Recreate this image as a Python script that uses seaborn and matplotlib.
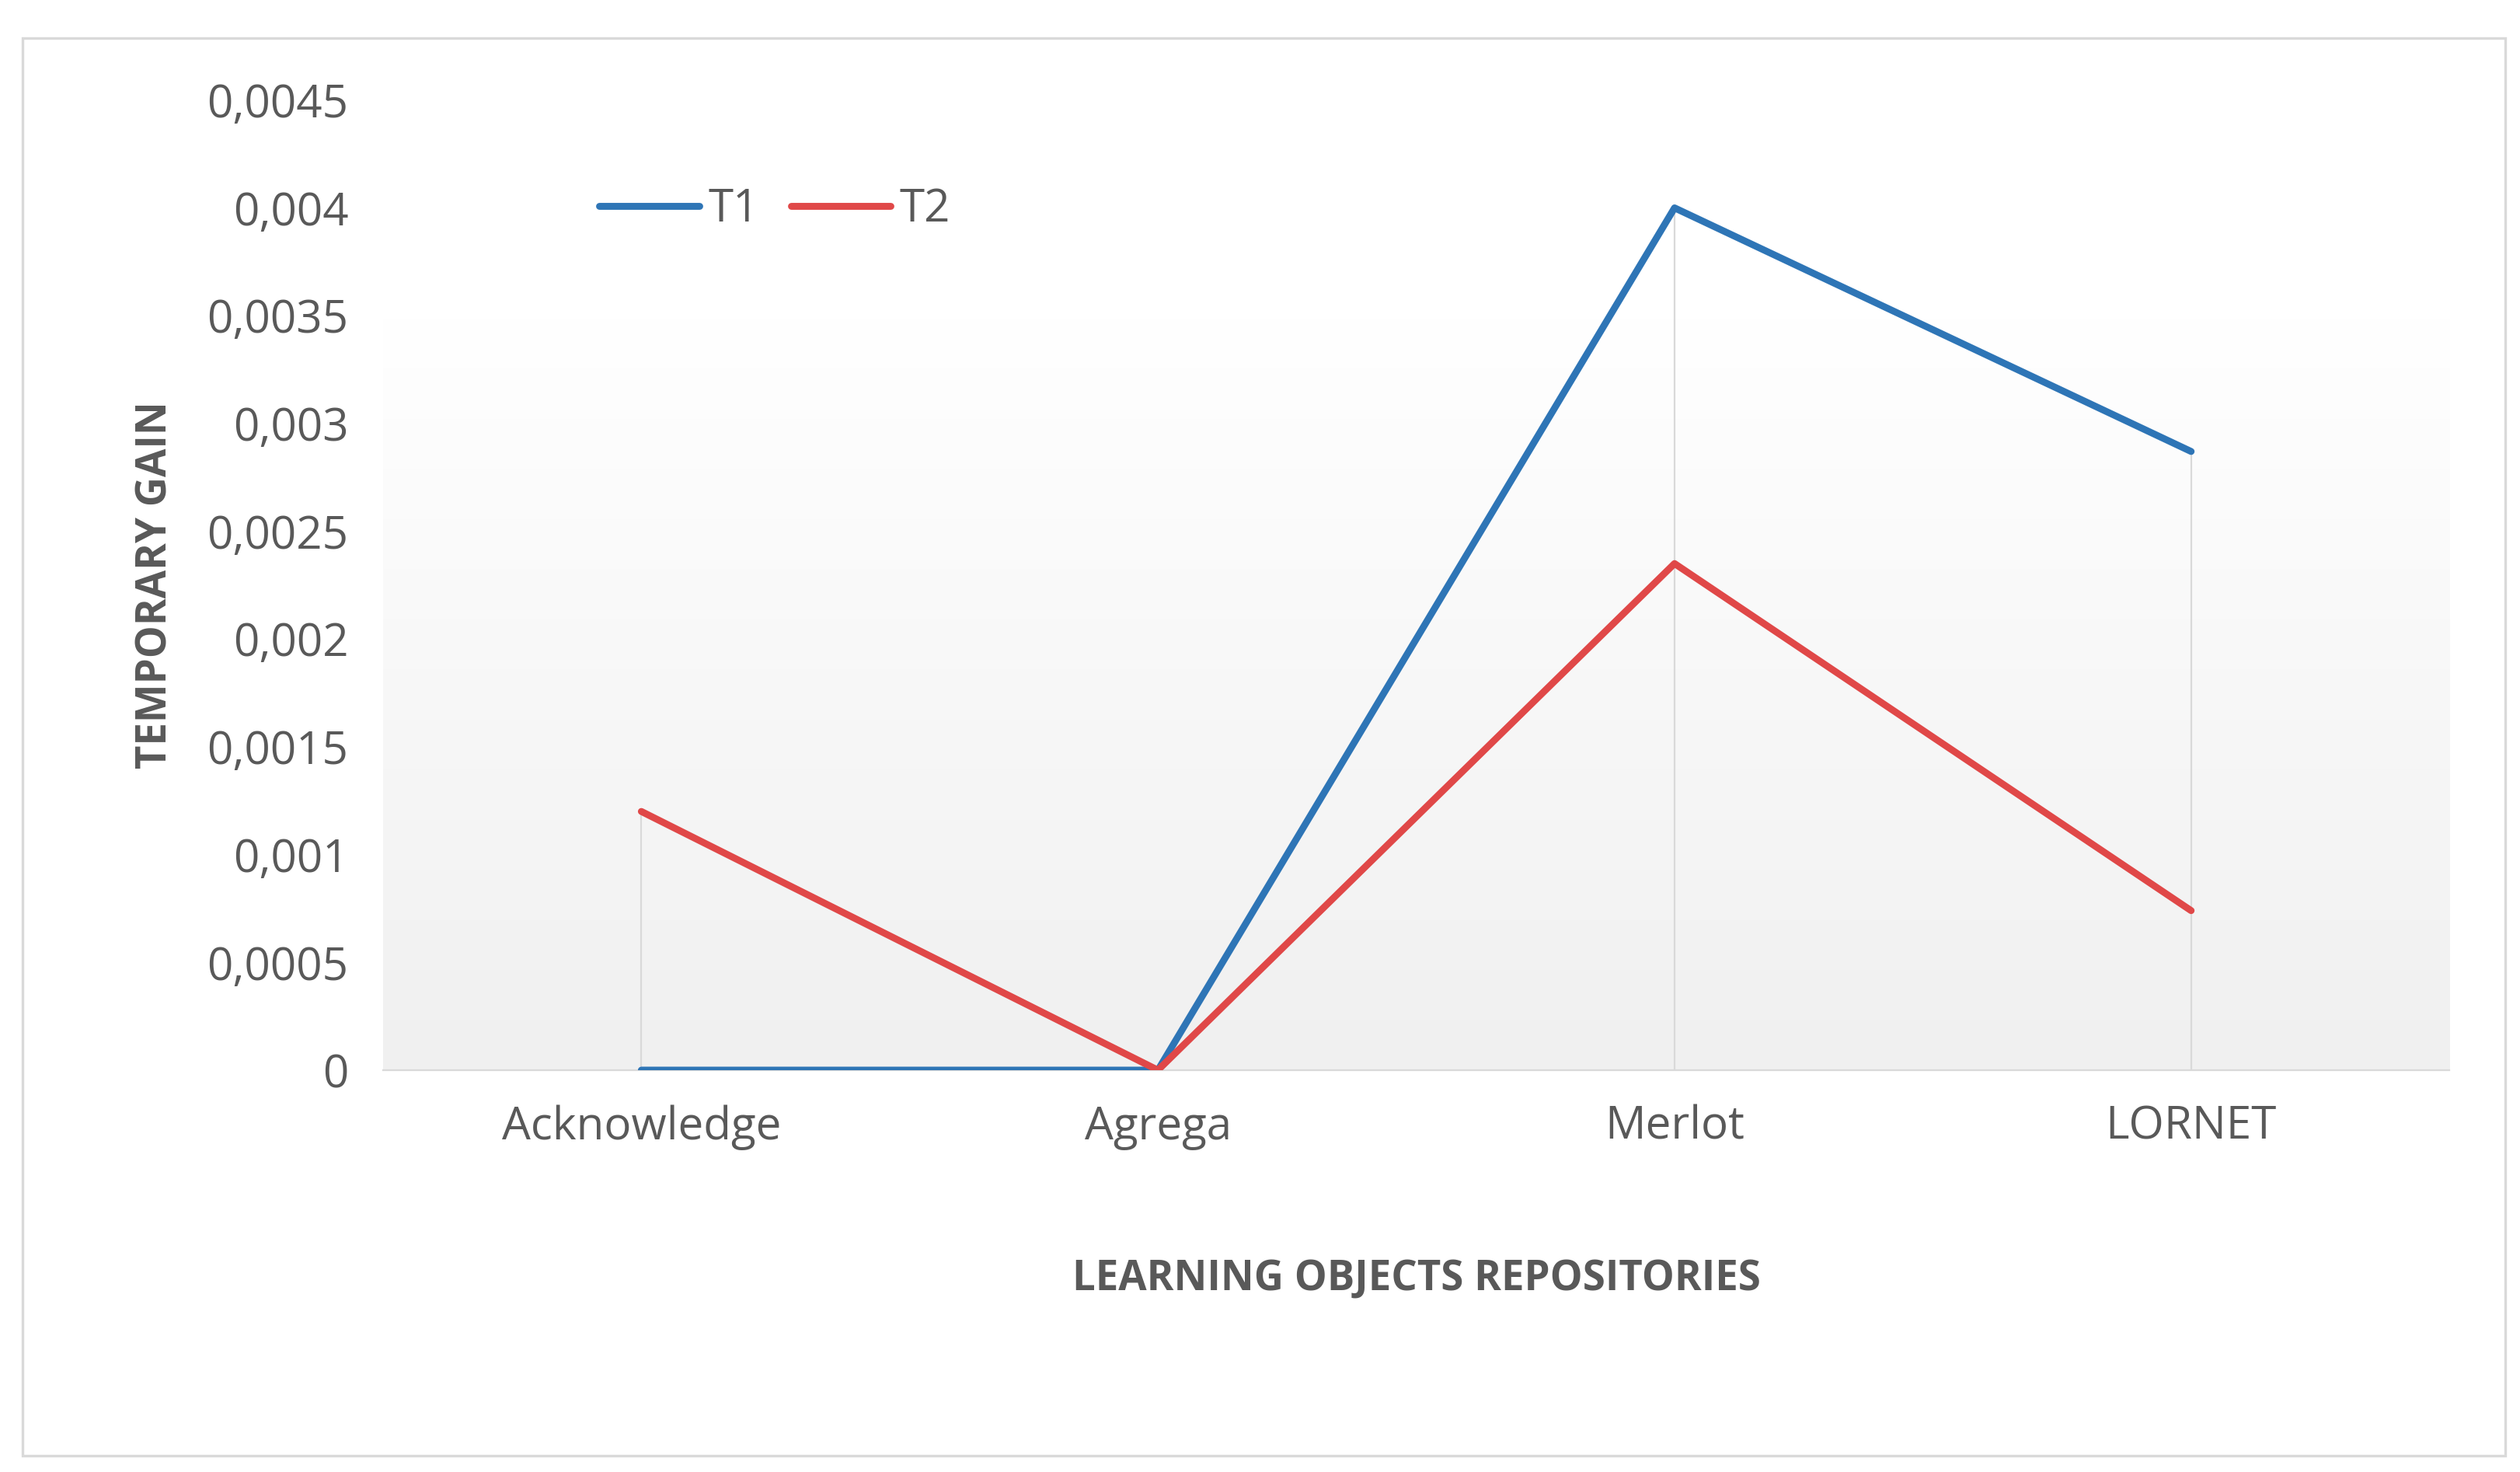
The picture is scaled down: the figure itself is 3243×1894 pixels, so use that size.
import numpy as np
import pandas as pd
import matplotlib
matplotlib.use("Agg")
import matplotlib.pyplot as plt
import seaborn as sns
from matplotlib.patches import Rectangle
from matplotlib.ticker import FuncFormatter

# Данные графика
repositories = ["Acknowledge", "Agrega", "Merlot", "LORNET"]
t1_values = [0.0, 0.0, 0.004, 0.00287]
t2_values = [0.0012, 0.0, 0.00235, 0.00074]

df = pd.DataFrame({
    "repo": repositories * 2,
    "gain": t1_values + t2_values,
    "series": ["T1"] * 4 + ["T2"] * 4,
})
df["pos"] = list(range(4)) * 2

sns.set_style("white")
plt.rcParams["font.family"] = ["Open Sans", "DejaVu Sans"]
grey = "#595959"

fig = plt.figure(figsize=(16.215, 9.47), dpi=200)
ax = fig.add_axes([0.152, 0.273, 0.820, 0.659])

# Фон с градиентом
grad = np.linspace(0, 1, 256).reshape(-1, 1)
cmap = matplotlib.colors.LinearSegmentedColormap.from_list("g", ["#f0f0f0", "#ffffff"])
ax.imshow(grad, aspect="auto", cmap=cmap, origin="lower",
          extent=[-0.5, 3.5, 0, 0.0035], zorder=0)

# Вертикальные линии (drop lines)
for i in range(4):
    ax.plot([i, i], [0, max(t1_values[i], t2_values[i])], color="#d9d9d9", lw=0.8, zorder=1)

sns.lineplot(data=df, x="pos", y="gain", hue="series",
             palette={"T1": "#2e75b6", "T2": "#e04848"}, lw=3.2, ax=ax, zorder=3)

ax.set_xlim(-0.5, 3.5)
ax.set_ylim(0, 0.0045)
ax.set_yticks(np.arange(0, 0.00451, 0.0005))
ax.yaxis.set_major_formatter(FuncFormatter(
    lambda v, p: "0" if abs(v) < 1e-12 else f"{v:.4f}".rstrip("0").replace(".", ",")))
ax.set_xticks(range(4))
ax.set_xticklabels(repositories)
ax.tick_params(axis="both", labelsize=21, colors=grey, length=0, pad=16)
for s in ["top", "right", "left"]:
    ax.spines[s].set_visible(False)
ax.spines["bottom"].set_color("#d9d9d9")
ax.set_xlabel("LEARNING OBJECTS REPOSITORIES", fontsize=19, fontweight="bold",
              color=grey, labelpad=50)
ax.set_ylabel("TEMPORARY GAIN", fontsize=19, fontweight="bold", color=grey, labelpad=14)
ax.legend(title=None, frameon=False, loc="center left", bbox_to_anchor=(0.085, 0.887),
          ncol=2, fontsize=21, handlelength=2.2, columnspacing=0.7, handletextpad=0.2,
          labelcolor=grey)

fig.patches.append(Rectangle((0.009, 0.011), 0.985, 0.963, transform=fig.transFigure,
                             fill=False, edgecolor="#d9d9d9", lw=1.2))

fig.savefig("out.png", dpi=200)
